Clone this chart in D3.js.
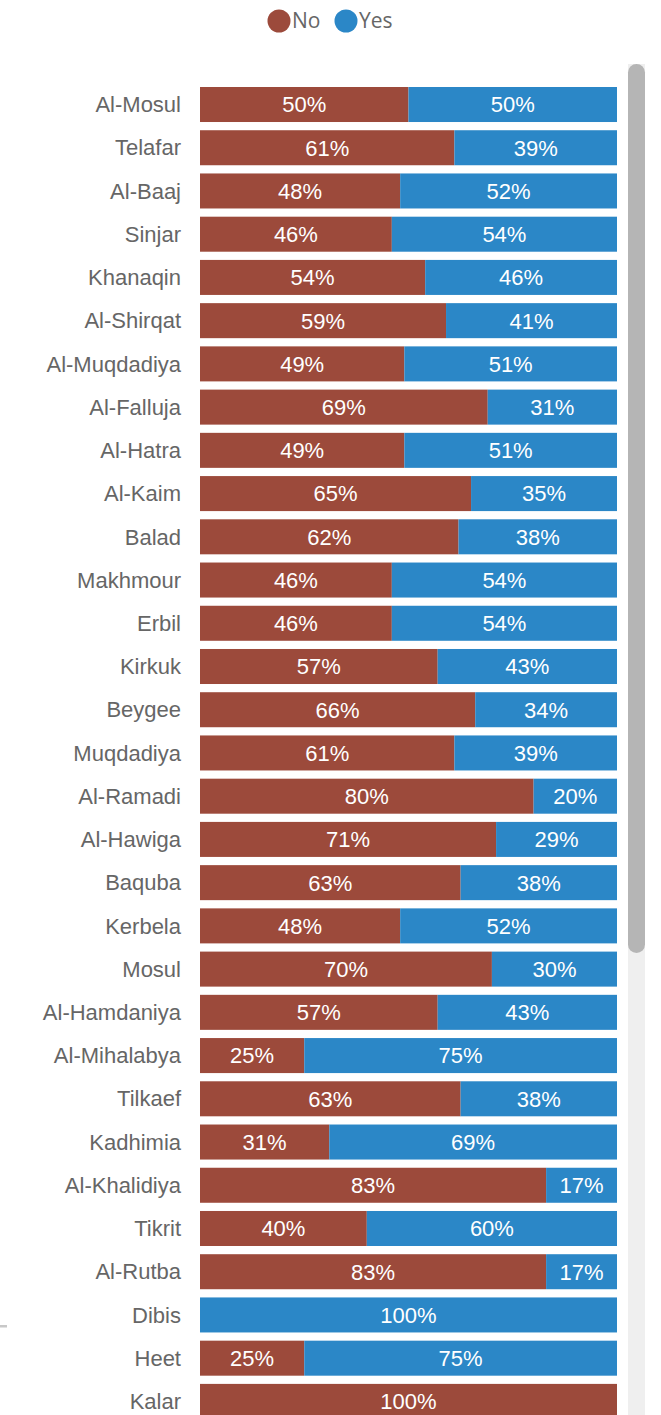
<!DOCTYPE html>
<html>
<head>
<meta charset="utf-8">
<script src="https://cdn.jsdelivr.net/npm/d3@7"></script>
<style>
  html, body { margin: 0; padding: 0; background: #fff; overflow: hidden; }
  #chart { width: 661px; height: 1415px; }
  .cat-label { font-family: "Liberation Sans", Arial, sans-serif; font-size: 22px; fill: #666; }
  .val-label { font-family: "Liberation Sans", Arial, sans-serif; font-size: 22px; fill: #fff; }
  .legend-text { font-family: "Open Sans", "Noto Sans", sans-serif; font-size: 21px; fill: #666; }
</style>
</head>
<body>
<div id="chart"></div>
<script>
// districts, top to bottom
const districts = ["Al-Mosul", "Telafar", "Al-Baaj", "Sinjar", "Khanaqin", "Al-Shirqat", "Al-Muqdadiya",
  "Al-Falluja", "Al-Hatra", "Al-Kaim", "Balad", "Makhmour", "Erbil", "Kirkuk", "Beygee", "Muqdadiya",
  "Al-Ramadi", "Al-Hawiga", "Baquba", "Kerbela", "Mosul", "Al-Hamdaniya", "Al-Mihalabya", "Tilkaef",
  "Kadhimia", "Al-Khalidiya", "Tikrit", "Al-Rutba", "Dibis", "Heet", "Kalar"];

// share answering "No" (%), "Yes" is the rest
const noShare = [50, 61, 48, 46, 54, 59, 49, 69, 49, 65, 62, 46, 46, 57, 66, 61,
  80, 71, 62.5, 48, 70, 57, 25, 62.5, 31, 83, 40, 83, 0, 25, 100];

const seriesNames = ["No", "Yes"];
const seriesColors = ["#9c4a3b", "#2b87c7"];

const W = 661, H = 1415;
const margin = {left: 200, right: 44};

const svg = d3.select("#chart").append("svg")
  .attr("width", W)
  .attr("height", H);

const x = d3.scaleLinear()
  .domain([0, 100])
  .range([margin.left, W - margin.right]);

const step = 43.23;
const y = d3.scaleBand()
  .domain(districts)
  .range([87 - step * 0.19, 87 - step * 0.19 + step * (districts.length + 0.19)])
  .padding(0.19);

const color = d3.scaleOrdinal().domain(seriesNames).range(seriesColors);

// build stacked rows
const rows = districts.map((d, i) => ({district: d, No: noShare[i], Yes: 100 - noShare[i]}));
const stacked = d3.stack().keys(seriesNames)(rows);

// legend
const legend = svg.append("g").attr("class", "legend");
const legendX = [279, 346];
seriesNames.forEach((s, i) => {
  legend.append("circle")
    .attr("cx", legendX[i])
    .attr("cy", 21)
    .attr("r", 11.5)
    .attr("fill", color(s));
  legend.append("text")
    .attr("class", "legend-text")
    .attr("x", legendX[i] + 13)
    .attr("y", 21)
    .attr("dy", "0.35em")
    .text(s);
});

// scrollbar
svg.append("rect")
  .attr("x", 628).attr("y", 64)
  .attr("width", 17).attr("height", H - 64)
  .attr("fill", "#efefef");
svg.append("rect")
  .attr("x", 628).attr("y", 64)
  .attr("width", 17).attr("height", 889)
  .attr("rx", 8.5)
  .attr("fill", "#b5b5b5");

// small tick at the left edge
svg.append("rect")
  .attr("x", 0).attr("y", 1325)
  .attr("width", 7).attr("height", 2.5)
  .attr("fill", "#c8c8c8");

// category labels
svg.append("g")
  .selectAll("text")
  .data(districts)
  .join("text")
  .attr("class", "cat-label")
  .attr("x", 181)
  .attr("y", d => y(d) + y.bandwidth() / 2)
  .attr("dy", "0.35em")
  .attr("text-anchor", "end")
  .text(d => d);

// bars
const layers = svg.append("g")
  .selectAll("g")
  .data(stacked)
  .join("g")
  .attr("fill", d => color(d.key));

layers.selectAll("rect")
  .data(d => d)
  .join("rect")
  .attr("x", d => x(d[0]))
  .attr("y", d => y(d.data.district))
  .attr("width", d => x(d[1]) - x(d[0]))
  .attr("height", y.bandwidth());

layers.selectAll("text")
  .data(d => d.filter(v => v[1] - v[0] > 0))
  .join("text")
  .attr("class", "val-label")
  .attr("x", d => (x(d[0]) + x(d[1])) / 2)
  .attr("y", d => y(d.data.district) + y.bandwidth() / 2)
  .attr("dy", "0.36em")
  .attr("text-anchor", "middle")
  .text(d => Math.round(d[1] - d[0]) + "%");
</script>
</body>
</html>
